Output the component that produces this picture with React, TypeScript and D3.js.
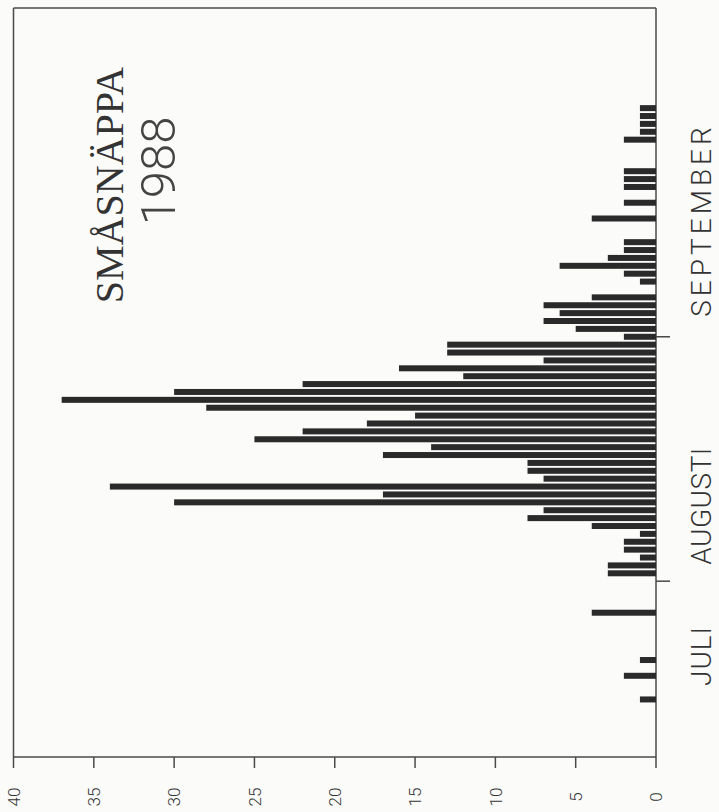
import React from "react";
import * as d3 from "d3";

// Observation days (1988) and number of birds counted
const obsDates = [
  "1988-07-17", "1988-07-20", "1988-07-22", "1988-07-28",
  "1988-08-02", "1988-08-03", "1988-08-04", "1988-08-05", "1988-08-06", "1988-08-07",
  "1988-08-08", "1988-08-09", "1988-08-10", "1988-08-11", "1988-08-12", "1988-08-13",
  "1988-08-14", "1988-08-15", "1988-08-16", "1988-08-17", "1988-08-18", "1988-08-19",
  "1988-08-20", "1988-08-21", "1988-08-22", "1988-08-23", "1988-08-24", "1988-08-25",
  "1988-08-26", "1988-08-27", "1988-08-28", "1988-08-29", "1988-08-30", "1988-08-31",
  "1988-09-01", "1988-09-02", "1988-09-03", "1988-09-04", "1988-09-05", "1988-09-06",
  "1988-09-08", "1988-09-09", "1988-09-10", "1988-09-11", "1988-09-12", "1988-09-13",
  "1988-09-16", "1988-09-18", "1988-09-20", "1988-09-21", "1988-09-22",
  "1988-09-26", "1988-09-27", "1988-09-28", "1988-09-29", "1988-09-30",
];
const counts = [
  1, 2, 1, 4,
  3, 3, 1, 2, 2, 1,
  4, 8, 7, 30, 17, 34,
  7, 8, 8, 17, 14, 25,
  22, 18, 15, 28, 37, 30,
  22, 12, 16, 7, 13, 13,
  2, 5, 7, 6, 7, 4,
  1, 2, 6, 3, 2, 2,
  4, 2, 2, 2, 2,
  2, 1, 1, 1, 1,
];
const valueTicks = [0, 5, 10, 15, 20, 25, 30, 35, 40];
const monthTickDates = ["1988-08-01", "1988-09-01"];
const monthNames = ["JULI", "AUGUSTI", "SEPTEMBER"];
const monthLabelDates = ["1988-07-22T12:15", "1988-08-10T13:00", "1988-09-15T19:30"];
const monthSpacing = [1, 0.5, 4];
const titleText = "SMÅSNÄPPA";
const yearText = "1988";

const parse = d3.utcParse("%Y-%m-%d");
const parseT = d3.utcParse("%Y-%m-%dT%H:%M");

export default function App() {
  const W = 719;
  const H = 812;
  const left = 13.5;
  const right = 656;
  const top = 8;
  const bottom = 757;

  const y = d3
    .scaleUtc()
    .domain([parseT("1988-07-09T16:48")!, parseT("1988-10-12T16:48")!])
    .range([bottom, top]);
  const x = d3.scaleLinear().domain([0, 40]).range([right, left]);

  const barH = 6;
  const ink = "#2a2a2a";
  const lineCol = "#4a4a4a";
  const sans = "Roboto, 'Open Sans', 'Liberation Sans', sans-serif";

  const bars = obsDates.map((d, i) => ({ date: parse(d)!, v: counts[i] }));

  return (
    <svg
      width={W}
      height={H}
      style={{ position: "absolute", left: 0, top: 0, background: "#fbfbfa" }}
    >
      <rect x={0} y={0} width={W} height={H} fill="#fbfbfa" />
      {/* frame */}
      <line x1={left} x2={right} y1={top} y2={top} stroke={lineCol} strokeWidth={1.5} />
      <line x1={left} x2={left} y1={top} y2={bottom} stroke={lineCol} strokeWidth={1.5} />
      <line x1={right} x2={right} y1={top} y2={bottom} stroke={lineCol} strokeWidth={1.5} />
      <line x1={left} x2={right} y1={bottom} y2={bottom} stroke={lineCol} strokeWidth={1.5} />

      {/* bars */}
      {bars.map((b, i) => (
        <rect
          key={i}
          x={x(b.v)}
          y={y(b.date) - barH / 2}
          width={x(0) - x(b.v)}
          height={barH}
          fill={ink}
        />
      ))}

      {/* value axis ticks + labels (rotated) */}
      {valueTicks.map((t) => (
        <g key={t}>
          <line x1={x(t)} x2={x(t)} y1={bottom} y2={bottom + 11} stroke={lineCol} strokeWidth={1.5} />
          <text
            transform={`translate(${x(t)},797) rotate(-90)`}
            textAnchor="middle"
            dy="0.36em"
            fontFamily={sans}
            fontWeight={300}
            fontSize={17}
            fill="#333"
          >
            {t}
          </text>
        </g>
      ))}

      {/* month boundary ticks */}
      {monthTickDates.map((d) => (
        <line
          key={d}
          x1={right}
          x2={right + 14}
          y1={y(parse(d)!)}
          y2={y(parse(d)!)}
          stroke={lineCol}
          strokeWidth={1.5}
        />
      ))}

      {/* month labels */}
      {monthNames.map((m, i) => (
        <text
          key={m}
          transform={`translate(711,${y(parseT(monthLabelDates[i])!)}) rotate(-90)`}
          textAnchor="middle"
          fontFamily={sans}
          fontWeight={300}
          fontSize={28}
          letterSpacing={monthSpacing[i]}
          fill="#333"
        >
          {m}
        </text>
      ))}

      {/* title */}
      <text
        transform="translate(123,185) rotate(-90)"
        textAnchor="middle"
        fontFamily="'Liberation Serif', 'DejaVu Serif', serif"
        fontSize={40}
        fill="#333"
      >
        {titleText}
      </text>
      <text
        transform="translate(175,171) rotate(-90)"
        textAnchor="middle"
        fontFamily={sans}
        fontWeight={300}
        fontSize={49}
        fill="#444"
      >
        {yearText}
      </text>
    </svg>
  );
}
